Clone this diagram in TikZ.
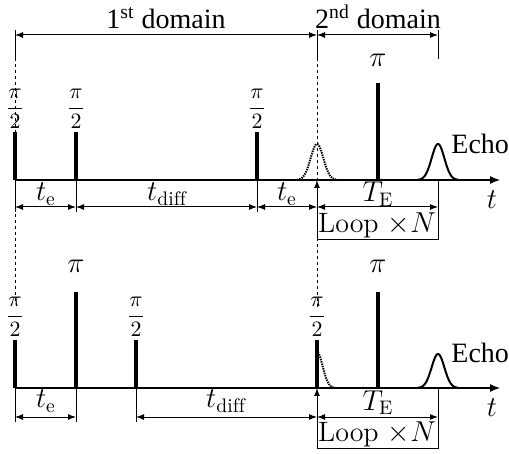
\documentclass[tikz,border=0pt]{standalone}
\usepackage{fontspec}
\newfontfamily\tms{Liberation Serif}
\usepackage{amsmath}
\usetikzlibrary{arrows.meta}
\begin{document}
\begin{tikzpicture}[x=0.5pt,y=-0.5pt,
  font=\fontsize{14}{17}\selectfont,
  pulse/.style={line width=2pt},
  axis/.style={line width=0.6pt,-{Latex[length=5pt,width=4pt]}},
  dim/.style={line width=0.5pt,{Latex[length=4pt,width=3pt]}-{Latex[length=4pt,width=3pt]}},
  uparrow/.style={line width=0.5pt,-{Latex[length=4pt,width=3pt]}},
  tickline/.style={line width=0.5pt},
  guide/.style={line width=0.5pt,dash pattern=on 1.5pt off 1.5pt},
  echo/.style={line width=1pt},
  fid/.style={line width=1pt,dash pattern=on 0.7pt off 0.5pt},
  half/.style={inner sep=0pt,anchor=south,font=\fontsize{11}{13}\selectfont},
  lbl/.style={inner sep=0pt,anchor=base}]
\useasboundingbox (0,0) rectangle (509,454);

% ---------- domain header ----------
\node[lbl] (d1) at (166,29) {\tms 1\textsuperscript{st} domain};
\node[lbl] (d2) at (378,29) {\tms 2\textsuperscript{nd} domain};
\coordinate (h0t) at (15,30);  \coordinate (h0) at (15,35);  \coordinate (h0b) at (15,58);
\coordinate (h1t) at (317,30); \coordinate (h1) at (317,35); \coordinate (h1b) at (317,58);
\coordinate (h2t) at (438,30); \coordinate (h2) at (438,35); \coordinate (h2b) at (438,59);
\draw[tickline] (h0t) -- (h0b);
\draw[tickline] (h1t) -- (h1b);
\draw[tickline] (h2t) -- (h2b);
\draw[dim] (h0) -- (h1);
\draw[dim] (h1) -- (h2);
\coordinate (g0) at (15,303);
\coordinate (g1) at (317,308);
\draw[guide] (h0b) -- (g0);
\draw[guide] (h1b) -- (g1);

% ---------- upper sequence ----------
\coordinate (ua0) at (15,180); \coordinate (ua1) at (500,180);
\draw[axis] (ua0) -- (ua1);
\node (ut) at (492,200) {$t$};
% pulses
\coordinate (up1) at (15,132);  \coordinate (up1b) at (15,180);
\coordinate (up2) at (76,132);  \coordinate (up2b) at (76,180);
\coordinate (up3) at (257,132); \coordinate (up3b) at (257,180);
\coordinate (up4) at (378,83);  \coordinate (up4b) at (378,180);
\draw[pulse] (up1b) -- (up1);
\draw[pulse] (up2b) -- (up2);
\draw[pulse] (up3b) -- (up3);
\draw[pulse] (up4b) -- (up4);
\node[half] (uh1) at (15,129) {$\displaystyle\frac{\pi}{2}$};
\node[half] (uh2) at (76,129) {$\displaystyle\frac{\pi}{2}$};
\node[half] (uh3) at (257,129) {$\displaystyle\frac{\pi}{2}$};
\node[lbl] (upi) at (378,67) {$\pi$};
% echoes
\draw[fid] plot[domain=-20:20,samples=61] ({317+\x},{180-36*exp(-(\x/9)*(\x/9))});
\draw[echo] plot[domain=-20:20,samples=61] ({438+\x},{180-36*exp(-(\x/9)*(\x/9))});
\node[lbl,anchor=base west] (ue) at (451,154) {\tms Echo};
% timing
\coordinate (uk1) at (15,212); \coordinate (uk2) at (76,212); \coordinate (uk3) at (257,212);
\draw[tickline] (up2b) -- (uk2);
\draw[tickline] (up3b) -- (uk3);
\draw[tickline] (up1b) -- (uk1);
\coordinate (ud0) at (15,207); \coordinate (ud1) at (76,207); \coordinate (ud2) at (257,207);
\coordinate (ud3) at (317,207); \coordinate (ud4) at (438,207);
\draw[dim] (ud0) -- (ud1);
\draw[dim] (ud1) -- (ud2);
\draw[dim] (ud2) -- (ud3);
\draw[dim] (ud3) -- (ud4);
\node[lbl] (ute1) at (46,201) {$t_\mathrm{e}$};
\node[lbl] (utd) at (167,201) {$t_\mathrm{diff}$};
\node[lbl] (ute2) at (287,201) {$t_\mathrm{e}$};
\node[lbl] (uTE) at (378,202) {$T_\mathrm{E}$};
% loop box
\coordinate (ub0) at (317,240); \coordinate (ub1) at (438,240);
\coordinate (ubt) at (317,180); \coordinate (ubr) at (438,180);
\draw[tickline] (ubr) -- (ub1) -- (ub0);
\draw[uparrow] (ub0) -- (ubt);
\node[lbl] (uloop) at (377,233) {Loop $\times N$};

% ---------- lower sequence ----------
\coordinate (la0) at (15,388); \coordinate (la1) at (500,388);
\draw[axis] (la0) -- (la1);
\node (lt) at (492,408) {$t$};
\coordinate (lp1) at (15,340);  \coordinate (lp1b) at (15,388);
\coordinate (lp2) at (76,292);  \coordinate (lp2b) at (76,388);
\coordinate (lp3) at (136,340); \coordinate (lp3b) at (136,388);
\coordinate (lp4) at (317,340); \coordinate (lp4b) at (317,388);
\coordinate (lp5) at (378,292); \coordinate (lp5b) at (378,388);
\draw[pulse] (lp1b) -- (lp1);
\draw[pulse] (lp2b) -- (lp2);
\draw[pulse] (lp3b) -- (lp3);
\draw[pulse] (lp4b) -- (lp4);
\draw[pulse] (lp5b) -- (lp5);
\node[half] (lh1) at (15,337) {$\displaystyle\frac{\pi}{2}$};
\node[half] (lh3) at (136,337) {$\displaystyle\frac{\pi}{2}$};
\node[half] (lh4) at (317,337) {$\displaystyle\frac{\pi}{2}$};
\node[lbl] (lpi1) at (76,273) {$\pi$};
\node[lbl] (lpi2) at (378,273) {$\pi$};
\draw[fid] plot[domain=0.8:18,samples=40] ({317+\x},{388-36*exp(-(\x/8)*(\x/8))});
\draw[echo] plot[domain=-20:20,samples=61] ({438+\x},{388-34*exp(-(\x/9)*(\x/9))});
\node[lbl,anchor=base west] (le) at (451,363) {\tms Echo};
\coordinate (lk1) at (15,422); \coordinate (lk2) at (76,422); \coordinate (lk3) at (136,422);
\draw[tickline] (lp1b) -- (lk1);
\draw[tickline] (lp2b) -- (lk2);
\draw[tickline] (lp3b) -- (lk3);
\coordinate (ld0) at (15,417); \coordinate (ld1) at (76,417); \coordinate (ld2) at (136,417);
\coordinate (ld3) at (317,417); \coordinate (ld4) at (438,417);
\draw[dim] (ld0) -- (ld1);
\draw[dim] (ld2) -- (ld3);
\draw[dim] (ld3) -- (ld4);
\node[lbl] (lte) at (46,408) {$t_\mathrm{e}$};
\node[lbl] (ltd) at (226,408) {$t_\mathrm{diff}$};
\node[lbl] (lTE) at (378,410) {$T_\mathrm{E}$};
\coordinate (lb0) at (317,448); \coordinate (lb1) at (438,448);
\coordinate (lbt) at (317,388); \coordinate (lbr) at (438,388);
\draw[tickline] (lbr) -- (lb1) -- (lb0);
\draw[uparrow] (lb0) -- (lbt);
\node[lbl] (lloop) at (377,442) {Loop $\times N$};
\end{tikzpicture}
\end{document}
